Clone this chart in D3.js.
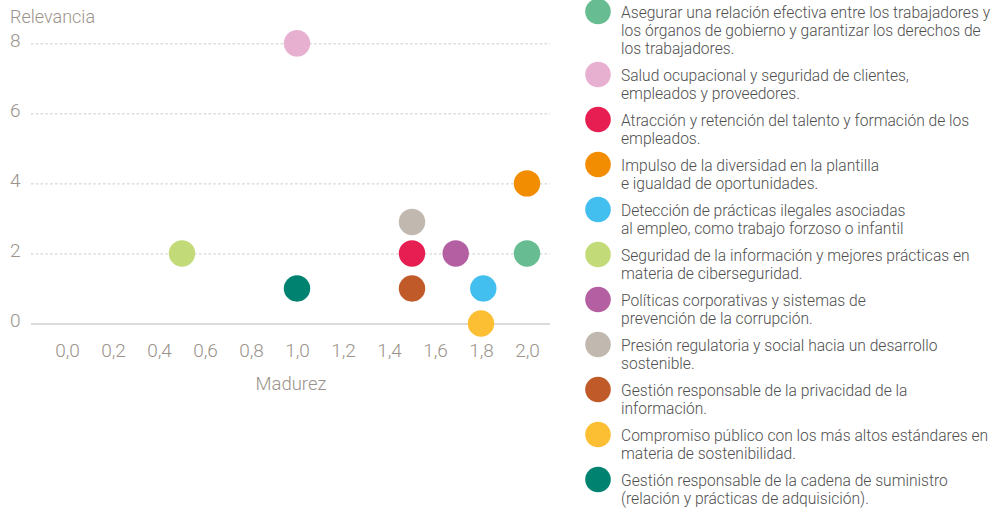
<!DOCTYPE html>
<html lang="es">
<head>
<meta charset="utf-8">
<script src="https://cdn.jsdelivr.net/npm/d3@7"></script>
<style>
  html, body { margin: 0; padding: 0; background: #fff; }
  svg { display: block; }
  text { font-family: Roboto, "Liberation Sans", Arial, sans-serif; }
</style>
</head>
<body>
<svg id="chart" width="993" height="513"></svg>
<script>
// Materiality topics: label lines, maturity (x), relevance (y), colour
const topics = [
  ["Asegurar una relación efectiva entre los trabajadores y", "los órganos de gobierno y garantizar los derechos de", "los trabajadores."],
  ["Salud ocupacional y seguridad de clientes,", "empleados y proveedores."],
  ["Atracción y retención del talento y formación de los", "empleados."],
  ["Impulso de la diversidad en la plantilla", "e igualdad de oportunidades."],
  ["Detección de prácticas ilegales asociadas", "al empleo, como trabajo forzoso o infantil"],
  ["Seguridad de la información y mejores prácticas en", "materia de ciberseguridad."],
  ["Políticas corporativas y sistemas de", "prevención de la corrupción."],
  ["Presión regulatoria y social hacia un desarrollo", "sostenible."],
  ["Gestión responsable de la privacidad de la", "información."],
  ["Compromiso público con los más altos estándares en", "materia de sostenibilidad."],
  ["Gestión responsable de la cadena de suministro", "(relación y prácticas de adquisición)."]
];
const madurez    = [2.0, 1.0, 1.5, 2.0, 1.81, 0.5, 1.69, 1.5, 1.5, 1.8, 1.0];
const relevancia = [2,   8,   2,   4,   1,    2,   2,    2.9, 1,   0,   1];
const colors = ["#67bd91", "#e8b0d0", "#e61e51", "#f28c00", "#42bfef", "#c3da78",
                "#b55fa3", "#c1b9af", "#c05a28", "#fcbf33", "#008270"];

const xTicks = [0, 0.2, 0.4, 0.6, 0.8, 1.0, 1.2, 1.4, 1.6, 1.8, 2.0];
const yTicks = [0, 2, 4, 6, 8];
const xTitle = "Madurez";
const yTitle = "Relevancia";

const svg = d3.select("#chart");
const axisColor = "#9b938b";
const fmt = d => d3.format(".1f")(d).replace(".", ",");

const x = d3.scaleLinear().domain([0, 2]).range([67, 527]);
const y = d3.scaleLinear().domain([0, 8]).range([323.5, 43.3]);
const plotLeft = 31, plotRight = 550;

// horizontal grid (dotted) and baseline (solid)
const yAxis = d3.axisLeft(y).tickValues(yTicks).tickSize(0).tickFormat(d => d);
const gy = svg.append("g").call(yAxis);
gy.select(".domain").remove();
gy.selectAll(".tick line").remove();
gy.selectAll(".tick").each(function(d) {
  d3.select(this).append("line")
    .attr("x1", plotLeft).attr("x2", plotRight)
    .attr("y1", 0).attr("y2", 0)
    .attr("stroke", d === 0 ? "#cfcfcf" : "#c9c9c9")
    .attr("stroke-width", d === 0 ? 1.6 : 1)
    .attr("stroke-dasharray", d === 0 ? null : "2.4,2.4");
});
gy.selectAll(".tick text")
  .attr("x", 10).attr("y", 3).attr("dy", 0)
  .attr("text-anchor", "start")
  .attr("fill", axisColor)
  .attr("font-size", 19)
  .attr("font-weight", 300);

svg.append("text")
  .attr("x", 10).attr("y", 22.5)
  .attr("fill", axisColor).attr("font-size", 18).attr("font-weight", 300)
  .text(yTitle);

// x axis labels
const xAxis = d3.axisBottom(x).tickValues(xTicks).tickSize(0).tickFormat(fmt);
const gx = svg.append("g").attr("transform", "translate(0,357)").call(xAxis);
gx.select(".domain").remove();
gx.selectAll(".tick text")
  .attr("y", 0).attr("dy", 0)
  .attr("fill", axisColor)
  .attr("font-size", 19)
  .attr("font-weight", 300);

svg.append("text")
  .attr("x", 291).attr("y", 390)
  .attr("text-anchor", "middle")
  .attr("fill", axisColor).attr("font-size", 18.5).attr("font-weight", 300)
  .text(xTitle);

// bubbles
svg.append("g").selectAll("circle")
  .data(d3.range(topics.length))
  .join("circle")
  .attr("cx", i => x(madurez[i]))
  .attr("cy", i => y(relevancia[i]))
  .attr("r", 13.2)
  .attr("fill", i => colors[i]);

// legend
const lineH = 18, gap = 9;
let cy = 11.5;
const legend = svg.append("g");
topics.forEach((lines, i) => {
  const g = legend.append("g").attr("transform", `translate(0,${cy})`);
  g.append("circle").attr("cx", 598).attr("cy", 0).attr("r", 12.8).attr("fill", colors[i]);
  const t = g.append("text")
    .attr("x", 621).attr("y", 6.5)
    .attr("fill", "#4f4f4f")
    .attr("font-size", 15.6)
    .attr("font-weight", 300);
  lines.forEach((s, k) => {
    t.append("tspan").attr("x", 621).attr("dy", k === 0 ? 0 : lineH).text(s);
  });
  cy += lines.length * lineH + gap;
});
</script>
</body>
</html>
